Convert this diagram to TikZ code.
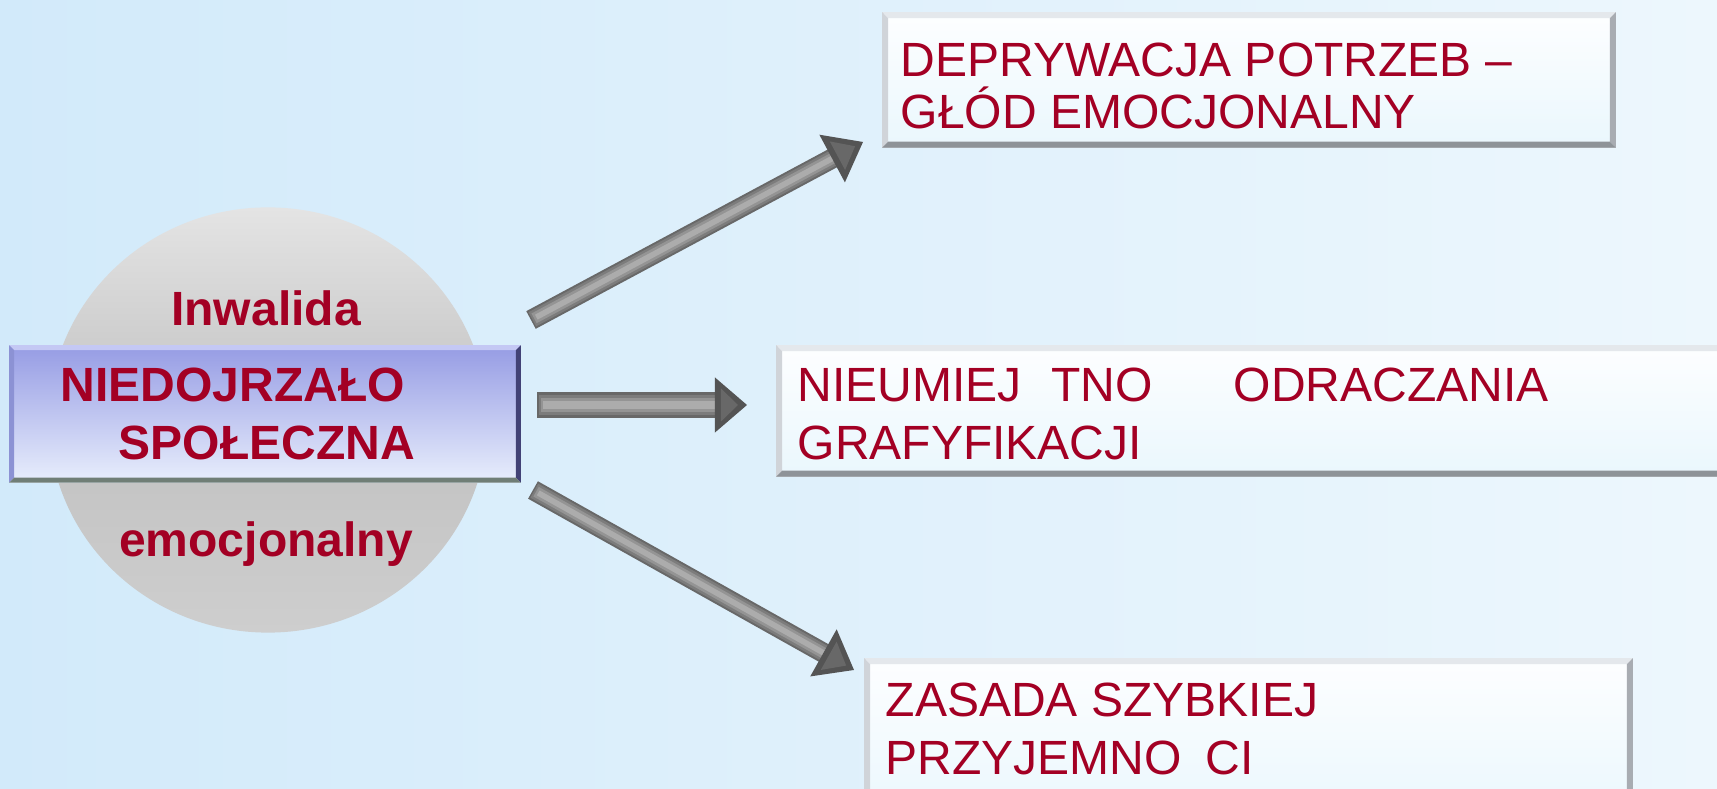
\documentclass[tikz,border=0pt]{standalone}
\usepackage{fontspec}
\setmainfont{Liberation Sans}
\usetikzlibrary{arrows.meta,calc,shapes.geometric}
\definecolor{txt}{RGB}{163,0,36}
\definecolor{bgL}{RGB}{210,234,250}
\definecolor{bgR}{RGB}{237,247,253}
\definecolor{diskT}{RGB}{228,228,228}
\definecolor{diskM}{RGB}{193,193,193}
\definecolor{diskB}{RGB}{206,206,206}
\definecolor{recT}{RGB}{150,156,228}
\definecolor{recB}{RGB}{232,238,252}
\definecolor{boxT}{RGB}{253,254,255}
\definecolor{boxB}{RGB}{234,247,253}
\definecolor{boxEdge}{RGB}{200,205,210}
\definecolor{arrA}{RGB}{104,104,104}
\definecolor{arrB}{RGB}{124,124,124}
\definecolor{arrC}{RGB}{148,148,148}
\definecolor{arrD}{RGB}{172,172,172}
\definecolor{headA}{RGB}{84,84,84}
\definecolor{headB}{RGB}{104,104,104}
\definecolor{rbT}{RGB}{196,200,244}
\definecolor{rbL}{RGB}{140,146,212}
\definecolor{rbR}{RGB}{66,66,118}
\definecolor{rbB}{RGB}{112,126,118}
\definecolor{wbT}{RGB}{228,232,236}
\definecolor{wbL}{RGB}{208,212,217}
\definecolor{wbR}{RGB}{168,172,178}
\definecolor{wbB}{RGB}{142,147,152}
\newcommand\mybevel[6]{%
 \fill[#3] (#1.north west) -- (#1.north east) -- ($(#1.north east)+(-#2,#2)$) -- ($(#1.north west)+(#2,#2)$) -- cycle;
 \fill[#4] (#1.north west) -- ($(#1.north west)+(#2,#2)$) -- ($(#1.south west)+(#2,-#2)$) -- (#1.south west) -- cycle;
 \fill[#5] (#1.north east) -- ($(#1.north east)+(-#2,#2)$) -- ($(#1.south east)+(-#2,-#2)$) -- (#1.south east) -- cycle;
 \fill[#6] (#1.south west) -- ($(#1.south west)+(#2,-#2)$) -- ($(#1.south east)+(-#2,-#2)$) -- (#1.south east) -- cycle;
}
% #1 start, #2 end, #3 shaft width (mm), #4 head length (mm), #5 half head width (mm)
\newcommand\mygarrow[5]{%
 \coordinate (hb) at ($(#2)!#4mm!(#1)$);
 \coordinate (hs) at ($(#2)!#4mm-0.6mm!(#1)$);
 \draw[line width=#3mm, arrA] (#1) -- (hs);
 \draw[line width=0.8*#3mm, arrB] ($(#1)!0.15mm!(#2)$) -- (hs);
 \draw[line width=0.55*#3mm, arrC] ($(#1)!0.35mm!(#2)$) -- (hs);
 \draw[line width=0.28*#3mm, arrD] ($(#1)!0.6mm!(#2)$) -- (hs);
 \fill[headA] ($(hb)!#5mm!90:(#2)$) -- (#2) -- ($(hb)!#5mm!-90:(#2)$) -- cycle;
 \coordinate (hi) at ($(hb)!0.6mm!(#2)$);
 \fill[headB] ($(hi)!0.6*#5mm!90:(#2)$) -- ($(#2)!0.9mm!(hb)$) -- ($(hi)!0.6*#5mm!-90:(#2)$) -- cycle;
}
\tikzset{
 lbl/.style={text=txt, font=\fontsize{13.66}{16}\selectfont, inner sep=0pt},
 blbl/.style={lbl, font=\fontsize{13.66}{16}\selectfont\bfseries},
 wbox/.style={rectangle, inner sep=0pt, top color=boxT, bottom color=boxB, draw=boxEdge, line width=0.4pt},
}
\begin{document}
\begin{tikzpicture}[x=0.01cm,y=-0.01cm]
\useasboundingbox (0,0) rectangle (1717,789);
\clip (0,0) rectangle (1717,789);
\shade[left color=bgL, right color=bgR] (0,0) rectangle (1717,789);

% central disk
\node (disk) [ellipse, minimum width=4.38cm, minimum height=4.25cm, inner sep=0pt, top color=diskT, bottom color=diskB, middle color=diskM] at (268,420) {};
\node (inw) [blbl, anchor=base] at (266,326) {Inwalida};
\node (emo) [blbl, anchor=base] at (266,557) {emocjonalny};

% central bar
\node (main) [rectangle, inner sep=0pt, minimum width=5.1cm, minimum height=1.36cm, top color=recT, bottom color=recB] at (265,414) {};
\mybevel{main}{5}{rbT}{rbL}{rbR}{rbB}
\node (t1) [blbl, anchor=base west] at (60,402) {NIEDOJRZAŁO};
\node (t2) [blbl, anchor=base west] at (118,460) {SPOŁECZNA};

% boxes
\node (b1) [wbox, minimum width=7.32cm, minimum height=1.34cm] at (1249,80) {};
\node (b2) [wbox, minimum width=9.63cm, minimum height=1.30cm] at (1258.5,411) {};
\node (b3) [wbox, minimum width=7.67cm, minimum height=1.61cm] at (1248.5,739.5) {};
\foreach \b in {b1,b2,b3}{
 \mybevel{\b}{6}{wbT}{wbL}{wbR}{wbB}
}
\node (b1a) [lbl, anchor=base west] at (900,77) {DEPRYWACJA POTRZEB –};
\node (b1b) [lbl, anchor=base west] at (900,129) {GŁÓD EMOCJONALNY};
\node (b2a) [lbl, anchor=base west] at (797,402) {NIEUMIEJ\hspace{0.62em}TNO\hspace{1.68em}ODRACZANIA};
\node (b2b) [lbl, anchor=base west] at (797,460) {GRAFYFIKACJI};
\node (b3a) [lbl, anchor=base west] at (885,717) {ZASADA SZYBKIEJ};
\node (b3b) [lbl, anchor=base west] at (885,775) {PRZYJEMNO\hspace{0.5em}CI};

% arrows
\coordinate (a1s) at (531,320); \coordinate (a1e) at (863,142);
\coordinate (a2s) at (537,405); \coordinate (a2e) at (747,405);
\coordinate (a3s) at (533,490); \coordinate (a3e) at (854,670);
\mygarrow{a1s}{a1e}{2}{3.5}{2.7}
\mygarrow{a2s}{a2e}{2.6}{3.2}{2.75}
\mygarrow{a3s}{a3e}{2}{3.5}{2.7}
\end{tikzpicture}
\end{document}
